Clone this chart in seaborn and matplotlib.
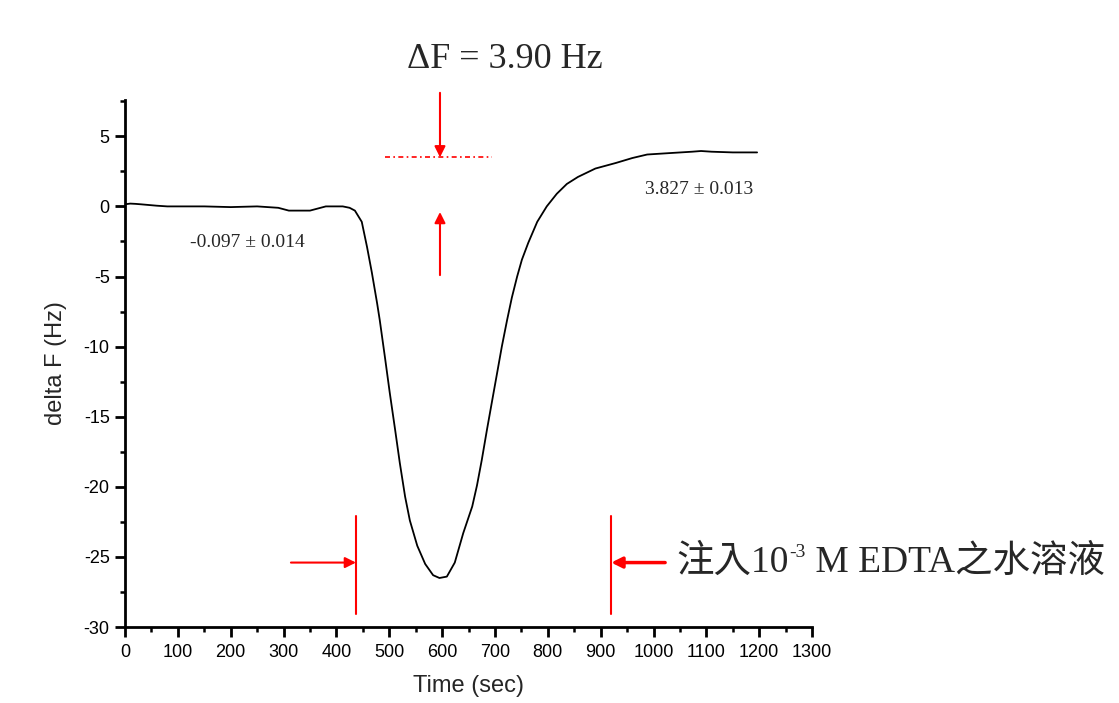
import matplotlib
matplotlib.use("Agg")
import matplotlib.pyplot as plt
from matplotlib.ticker import MultipleLocator
import seaborn as sns
import pandas as pd

# ---- data ----
time_sec = [0, 10, 20, 30, 45, 60, 80, 100, 150, 200, 250, 270, 290, 310, 330, 350,
            380, 400, 412, 425, 435, 448, 458, 467, 477, 482, 492, 501, 511, 520, 530,
            539, 553, 568, 583, 595, 609, 624, 640, 657, 666, 675, 685, 694, 704, 713,
            723, 732, 742, 751, 763, 780, 798, 817, 836, 857, 890, 929, 960, 988, 1030,
            1073, 1090, 1110, 1150, 1196]
delta_f = [0.15, 0.2, 0.18, 0.15, 0.1, 0.05, 0.0, 0.0, 0.0, -0.05, 0.0, -0.05, -0.1,
           -0.3, -0.3, -0.3, 0.0, 0.0, 0.0, -0.1, -0.3, -1.1, -2.9, -4.7, -6.9, -8.1,
           -10.8, -13.3, -15.9, -18.3, -20.7, -22.4, -24.2, -25.5, -26.3, -26.5, -26.4,
           -25.4, -23.3, -21.4, -19.9, -18.1, -15.9, -14.0, -11.9, -10.0, -8.1, -6.5,
           -5.0, -3.8, -2.6, -1.1, 0.0, 0.9, 1.6, 2.1, 2.7, 3.1, 3.45, 3.7, 3.8, 3.9,
           3.95, 3.9, 3.85, 3.85]

xtick_vals = list(range(0, 1301, 100))
ytick_vals = [5, 0, -5, -10, -15, -20, -25, -30]

title_text = "\u0394F = 3.90 Hz"
before_label = "-0.097 \u00b1 0.014"
after_label = "3.827 \u00b1 0.013"
inject_text_a = "注入10"
inject_text_sup = "-3"
inject_text_b = " M EDTA之水溶液"

# annotation anchors (data units)
level_line_t = [492, 694]
level_line_v = 3.5
df_arrow_t = 596
down_arrow = (8.1, 3.5)
up_arrow = (-4.9, -0.4)
inject_marks_t = [437, 920]
inject_mark_v = (-22.1, -29.1)
inject_arrow_v = -25.4
left_arrow_start_t = 314
right_arrow_start_t = 1022

# ---- figure ----
sns.set_theme(style="ticks")
plt.rcParams["font.family"] = ["Liberation Sans", "DejaVu Sans"]
plt.rcParams["axes.unicode_minus"] = False

fig = plt.figure(figsize=(11.19, 7.03), dpi=100)
ax = fig.add_axes([0.1117, 0.108, 0.6140, 0.750])

df = pd.DataFrame({"Time (sec)": time_sec, "delta F (Hz)": delta_f})
sns.lineplot(data=df, x="Time (sec)", y="delta F (Hz)", ax=ax, color="black",
             lw=1.3, estimator=None, sort=False)

ax.set_xlim(0, 1300)
ax.set_ylim(-30, 7.6)
ax.set_xticks(xtick_vals)
ax.set_yticks(ytick_vals)
ax.xaxis.set_minor_locator(MultipleLocator(50))
ax.yaxis.set_minor_locator(MultipleLocator(2.5))
ax.tick_params(axis="both", which="major", direction="out", length=7, width=2,
               labelsize=13, color="black", labelcolor="black")
ax.tick_params(axis="both", which="minor", direction="out", length=3.5, width=1.8,
               color="black")
ax.tick_params(axis="y", pad=4)
ax.tick_params(axis="x", pad=5)
for s in ["left", "bottom"]:
    ax.spines[s].set_linewidth(2)
    ax.spines[s].set_color("black")
for s in ["top", "right"]:
    ax.spines[s].set_visible(False)
ax.set_xlabel("Time (sec)", fontsize=17, labelpad=10)
ax.set_ylabel("delta F (Hz)", fontsize=17, labelpad=12)

red = "#ff0000"
serif = ["Liberation Serif", "DejaVu Serif"]
cjk = ["Liberation Serif", "Noto Sans CJK TC", "DejaVu Sans"]

# dotted level line
ax.plot(level_line_t, [level_line_v, level_line_v], color=red, lw=1.2,
        linestyle=(0, (3, 2, 1, 2)))
arrow_kw = dict(arrowstyle="-|>", color=red, lw=1.5, mutation_scale=16,
                shrinkA=0, shrinkB=0)
ax.annotate("", xy=(df_arrow_t, down_arrow[1]), xytext=(df_arrow_t, down_arrow[0]),
            arrowprops=arrow_kw, annotation_clip=False)
ax.annotate("", xy=(df_arrow_t, up_arrow[1]), xytext=(df_arrow_t, up_arrow[0]),
            arrowprops=arrow_kw, annotation_clip=False)

# injection markers
for t in inject_marks_t:
    ax.plot([t, t], list(inject_mark_v), color=red, lw=1.5)
ax.annotate("", xy=(inject_marks_t[0], inject_arrow_v),
            xytext=(left_arrow_start_t, inject_arrow_v), arrowprops=arrow_kw)
ax.annotate("", xy=(inject_marks_t[1], inject_arrow_v),
            xytext=(right_arrow_start_t, inject_arrow_v),
            arrowprops=dict(arrow_kw, lw=2.5))

# texts
ax.text(719, 10.5, title_text, fontsize=26, family=serif, ha="center", va="center",
        clip_on=False)
ax.text(123, -2.6, before_label, fontsize=14, family=serif, ha="left", va="center")
ax.text(984, 1.2, after_label, fontsize=14, family=serif, ha="left", va="center")

t1 = ax.text(1044, inject_arrow_v, inject_text_a, fontsize=27, family=cjk,
             ha="left", va="center", clip_on=False)
t2 = ax.annotate(inject_text_sup, xy=(1.0, 0.55), xycoords=t1, fontsize=14,
                 family=cjk, ha="left", va="bottom", annotation_clip=False)
ax.annotate(inject_text_b, xy=(1.0, 0.0), xycoords=(t2, t1), fontsize=27,
            family=cjk, ha="left", va="bottom", annotation_clip=False)

fig.savefig("out.png", dpi=100, facecolor="white")
